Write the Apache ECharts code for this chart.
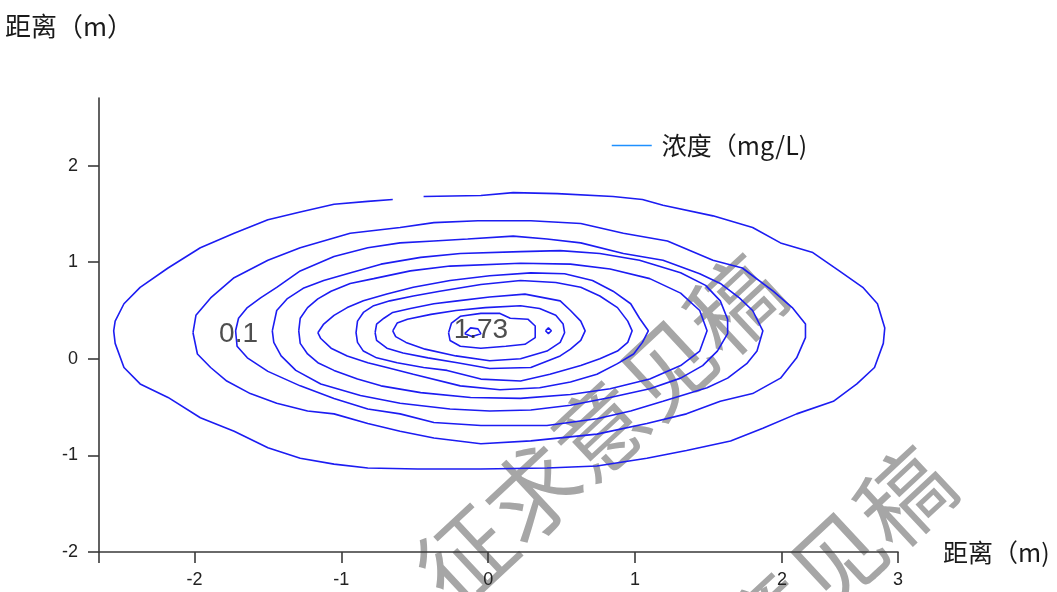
<!DOCTYPE html>
<html>
<head>
<meta charset="utf-8">
<script src="https://cdn.jsdelivr.net/npm/echarts@6/dist/echarts.min.js"></script>
<style>
  html, body { margin: 0; padding: 0; background: #ffffff; }
  #chart { width: 1057px; height: 592px; }
</style>
</head>
<body>
<div id="chart"></div>
<script>
// Axis titles, legend text and tick labels
const yTitle = '距离（m）';
const xTitle = '距离（m)';
const seriesName = '浓度（mg/L)';
const yTickValues = [-2, -1, 0, 1, 2];
const xTickValues = [-2, -1, 0, 1, 2, 2.79];
const xTickLabels = ['-2', '-1', '0', '1', '2', '3'];
const watermarkText = '征求意见稿';

// Concentration isolines, outermost first, as [x (m), y (m)] points
const contour1 = [[-0.44,1.68],[-0.05,1.69],[0.17,1.72],[0.47,1.71],[0.85,1.68],[1.05,1.65],[1.19,1.59],[1.53,1.48],[1.80,1.36],[1.99,1.20],[2.21,1.10],[2.39,0.91],[2.55,0.74],[2.65,0.57],[2.70,0.32],[2.69,0.16],[2.63,-0.09],[2.51,-0.26],[2.35,-0.44],[2.10,-0.57],[1.87,-0.72],[1.65,-0.85],[1.35,-0.95],[1.08,-1.03],[0.74,-1.11],[0.40,-1.13],[-0.05,-1.14],[-0.48,-1.14],[-0.82,-1.13],[-1.05,-1.09],[-1.28,-1.03],[-1.50,-0.92],[-1.73,-0.75],[-1.96,-0.61],[-2.18,-0.40],[-2.37,-0.26],[-2.48,-0.09],[-2.54,0.16],[-2.55,0.29],[-2.54,0.39],[-2.48,0.57],[-2.37,0.74],[-2.18,0.94],[-1.96,1.15],[-1.73,1.30],[-1.50,1.44],[-1.28,1.52],[-1.05,1.60],[-0.82,1.63],[-0.65,1.65]];
const contour2 = [[-2.01,0.27],[-1.99,0.45],[-1.89,0.63],[-1.73,0.84],[-1.50,1.02],[-1.28,1.15],[-0.94,1.30],[-0.60,1.36],[-0.37,1.41],[-0.07,1.43],[0.29,1.43],[0.63,1.40],[0.92,1.30],[1.22,1.22],[1.53,1.02],[1.73,0.94],[1.94,0.70],[2.07,0.53],[2.16,0.36],[2.16,0.22],[2.10,0.01],[1.99,-0.20],[1.80,-0.36],[1.58,-0.44],[1.35,-0.57],[1.08,-0.67],[0.74,-0.78],[0.29,-0.85],[-0.05,-0.88],[-0.37,-0.82],[-0.60,-0.75],[-0.82,-0.67],[-1.05,-0.57],[-1.23,-0.54],[-1.44,-0.46],[-1.62,-0.36],[-1.78,-0.23],[-1.89,-0.09],[-1.98,0.05],[-2.01,0.27]];
const contour3 = [[-1.72,0.29],[-1.70,0.42],[-1.64,0.53],[-1.55,0.63],[-1.44,0.74],[-1.28,0.91],[-1.05,1.06],[-0.82,1.15],[-0.60,1.20],[-0.37,1.22],[-0.14,1.24],[0.17,1.27],[0.40,1.24],[0.63,1.20],[0.92,1.09],[1.19,1.02],[1.44,0.88],[1.58,0.78],[1.71,0.63],[1.80,0.50],[1.87,0.29],[1.83,0.08],[1.76,-0.05],[1.63,-0.20],[1.49,-0.30],[1.19,-0.44],[0.97,-0.54],[0.74,-0.62],[0.40,-0.69],[-0.05,-0.69],[-0.37,-0.66],[-0.60,-0.57],[-0.82,-0.52],[-1.05,-0.41],[-1.28,-0.28],[-1.50,-0.13],[-1.64,0.01],[-1.71,0.13],[-1.72,0.29]];
const contour4 = [[-1.47,0.29],[-1.44,0.50],[-1.37,0.62],[-1.26,0.73],[-1.12,0.81],[-0.96,0.88],[-0.73,0.98],[-0.46,1.05],[-0.19,1.09],[0.22,1.11],[0.49,1.12],[0.76,1.09],[1.03,1.02],[1.31,0.89],[1.48,0.76],[1.58,0.60],[1.63,0.41],[1.63,0.26],[1.56,0.08],[1.46,-0.07],[1.31,-0.20],[1.10,-0.31],[0.83,-0.40],[0.56,-0.48],[0.29,-0.53],[0.01,-0.54],[-0.26,-0.52],[-0.60,-0.46],[-0.87,-0.38],[-1.14,-0.26],[-1.31,-0.12],[-1.41,0.03],[-1.46,0.17],[-1.47,0.29]];
const contour5 = [[-1.29,0.29],[-1.28,0.42],[-1.23,0.53],[-1.16,0.62],[-1.07,0.70],[-0.94,0.78],[-0.78,0.83],[-0.53,0.91],[-0.26,0.96],[0.22,0.99],[0.56,0.98],[0.83,0.93],[1.10,0.83],[1.31,0.68],[1.44,0.50],[1.49,0.29],[1.44,0.08],[1.31,-0.07],[1.10,-0.21],[0.83,-0.31],[0.56,-0.37],[0.22,-0.41],[-0.12,-0.40],[-0.46,-0.35],[-0.73,-0.28],[-0.89,-0.21],[-1.05,-0.12],[-1.16,-0.04],[-1.23,0.05],[-1.28,0.16],[-1.29,0.29]];
const contour6 = [[-1.16,0.27],[-1.12,0.36],[-1.05,0.45],[-0.96,0.53],[-0.85,0.60],[-0.69,0.67],[-0.51,0.74],[-0.26,0.81],[0.01,0.86],[0.29,0.89],[0.52,0.88],[0.71,0.81],[0.85,0.70],[0.97,0.57],[1.03,0.42],[1.09,0.29],[1.05,0.17],[0.99,0.05],[0.88,-0.05],[0.74,-0.16],[0.56,-0.24],[0.35,-0.30],[0.08,-0.32],[-0.19,-0.28],[-0.51,-0.16],[-0.69,-0.09],[-0.82,-0.04],[-0.96,0.03],[-1.07,0.11],[-1.14,0.21],[-1.16,0.27]];
const contour7 = [[-0.90,0.27],[-0.89,0.39],[-0.85,0.48],[-0.78,0.55],[-0.67,0.60],[-0.51,0.65],[-0.33,0.70],[-0.05,0.77],[0.22,0.81],[0.46,0.79],[0.63,0.74],[0.76,0.65],[0.88,0.53],[0.95,0.39],[0.98,0.29],[0.95,0.17],[0.88,0.08],[0.76,0.00],[0.63,-0.07],[0.42,-0.16],[0.22,-0.23],[-0.05,-0.21],[-0.28,-0.12],[-0.44,-0.09],[-0.62,-0.04],[-0.76,0.01],[-0.85,0.08],[-0.89,0.17],[-0.90,0.27]];
const contour8 = [[-0.77,0.27],[-0.76,0.36],[-0.71,0.42],[-0.65,0.48],[-0.53,0.52],[-0.37,0.57],[-0.21,0.60],[0.01,0.64],[0.25,0.67],[0.49,0.60],[0.56,0.50],[0.63,0.39],[0.66,0.29],[0.63,0.19],[0.56,0.10],[0.49,0.03],[0.29,-0.09],[0.01,-0.10],[-0.21,-0.04],[-0.41,0.01],[-0.58,0.06],[-0.69,0.11],[-0.76,0.19],[-0.77,0.27]];
const contour9 = [[-0.65,0.29],[-0.62,0.37],[-0.55,0.41],[-0.39,0.46],[-0.22,0.50],[-0.02,0.53],[0.22,0.55],[0.35,0.52],[0.46,0.45],[0.51,0.36],[0.52,0.27],[0.49,0.17],[0.40,0.08],[0.22,0.00],[0.01,-0.02],[-0.22,0.03],[-0.43,0.10],[-0.56,0.17],[-0.63,0.23],[-0.65,0.29]];
const contour10 = [[-0.27,0.27],[-0.25,0.37],[-0.19,0.44],[-0.05,0.47],[0.08,0.47],[0.15,0.42],[0.27,0.41],[0.32,0.34],[0.32,0.22],[0.25,0.15],[0.12,0.13],[-0.05,0.11],[-0.19,0.13],[-0.26,0.19],[-0.27,0.27]];
const peakLoopA = [[-0.16,0.26],[-0.12,0.32],[-0.07,0.31],[-0.05,0.26],[-0.11,0.23],[-0.16,0.26]];
const peakLoopB = [[0.39,0.29],[0.41,0.32],[0.43,0.29],[0.41,0.26],[0.39,0.29]];

// Level labels placed on the isolines: [x, y, value]
const levelLabels = [[-1.70, 0.25, 0.1], [-0.05, 0.30, 1.73]];

const contours = [contour1, contour2, contour3, contour4, contour5, contour6,
                  contour7, contour8, contour9, contour10, peakLoopA, peakLoopB];

const chart = echarts.init(document.getElementById('chart'), null, { renderer: 'canvas' });

const lineColor = '#1c1cf2';
const legendColor = '#1e90ff';

const lineSeries = contours.map((pts, i) => ({
  name: i === 0 ? seriesName : 'isoline' + i,
  type: 'line',
  data: pts,
  showSymbol: false,
  symbol: 'none',
  smooth: false,
  silent: true,
  z: 3,
  lineStyle: { color: lineColor, width: 1.6 },
  itemStyle: { color: lineColor }
}));

const labelSeries = {
  type: 'scatter',
  data: levelLabels,
  symbolSize: 0,
  silent: true,
  z: 4,
  label: {
    show: true,
    position: 'inside',
    formatter: p => String(p.value[2]),
    fontFamily: 'Liberation Sans, Arial, sans-serif',
    fontSize: 28,
    color: '#222222'
  }
};

const axisFont = { fontFamily: 'Liberation Sans, Arial, sans-serif', fontSize: 18, color: '#222222' };
const cjkFont = '"Noto Sans CJK SC", sans-serif';
const axisLineStyle = { color: '#3a3a3a', width: 1.6 };
const watermarkFont = '92px "Noto Sans CJK SC", sans-serif';

chart.setOption({
  animation: false,
  backgroundColor: '#ffffff',
  grid: { left: 99, right: 159, top: 98, bottom: 40, containLabel: false },
  legend: {
    left: 606,
    top: 128,
    itemWidth: 40,
    itemHeight: 14,
    selectedMode: false,
    textStyle: { fontFamily: cjkFont, fontSize: 25, color: '#1a1a1a', padding: [0, 0, 0, 5] },
    data: [{
      name: seriesName,
      itemStyle: { color: legendColor, opacity: 0, borderWidth: 0 },
      lineStyle: { color: legendColor, width: 1.5, opacity: 1 }
    }]
  },
  xAxis: {
    type: 'value',
    min: -2.65,
    max: 2.79,
    name: xTitle,
    nameLocation: 'end',
    nameGap: 45,
    nameTextStyle: { fontFamily: cjkFont, fontSize: 25, color: '#1a1a1a', align: 'left', verticalAlign: 'middle', padding: [0, 0, 56, 0] },
    axisLine: { show: true, onZero: false, lineStyle: axisLineStyle },
    axisTick: { show: true, length: 11, inside: false, customValues: [-2.65].concat(xTickValues), lineStyle: axisLineStyle },
    axisLabel: Object.assign({
      margin: 19,
      customValues: xTickValues,
      formatter: v => xTickLabels[xTickValues.indexOf(v)] ?? ''
    }, axisFont),
    splitLine: { show: false }
  },
  yAxis: {
    type: 'value',
    min: -2,
    max: 2.7,
    name: yTitle,
    nameLocation: 'end',
    nameGap: 72,
    nameTextStyle: { fontFamily: cjkFont, fontSize: 26, color: '#1a1a1a', align: 'center', verticalAlign: 'middle', padding: [0, 60, 0, 0] },
    axisLine: { show: true, onZero: false, lineStyle: axisLineStyle },
    axisTick: { show: true, length: 11, inside: false, customValues: yTickValues, lineStyle: axisLineStyle },
    axisLabel: Object.assign({ margin: 21, customValues: yTickValues }, axisFont),
    splitLine: { show: false }
  },
  graphic: [
    {
      type: 'text', x: 600, y: 430, rotation: 0.75, z: -10, silent: true,
      style: { text: watermarkText, font: watermarkFont, fill: '#a6a6a6', align: 'center', verticalAlign: 'middle' }
    },
    {
      type: 'text', x: 770, y: 622, rotation: 0.75, z: -10, silent: true,
      style: { text: watermarkText, font: watermarkFont, fill: '#a6a6a6', align: 'center', verticalAlign: 'middle' }
    }
  ],
  series: lineSeries.concat([labelSeries])
});
</script>
</body>
</html>
